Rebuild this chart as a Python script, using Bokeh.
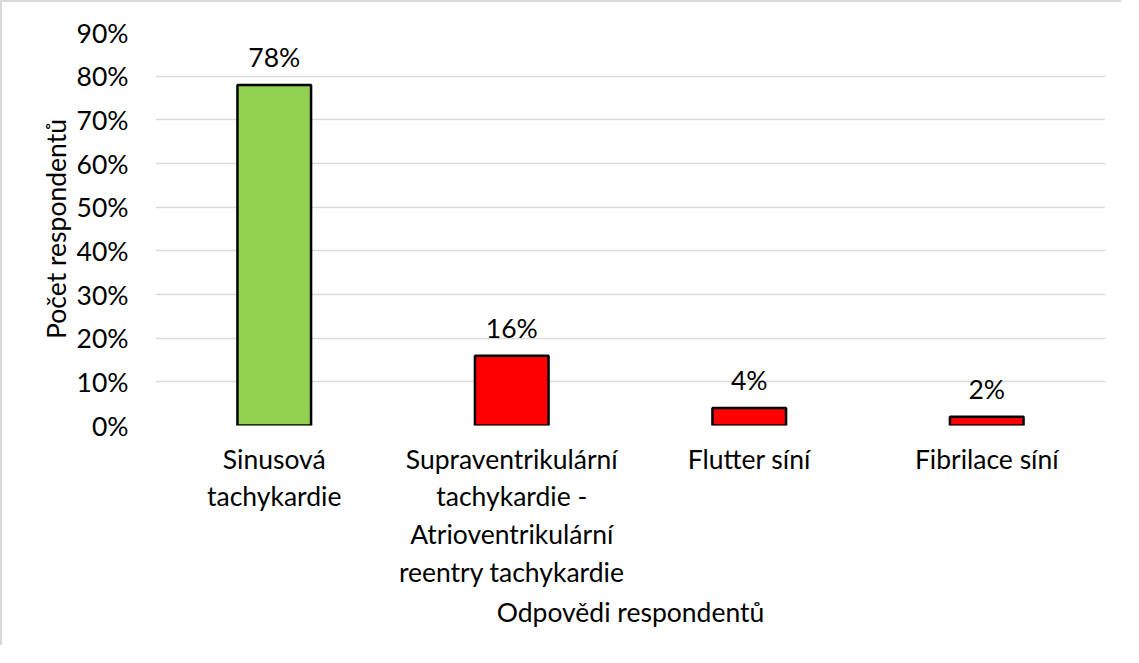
from bokeh.plotting import figure
from bokeh.models import ColumnDataSource, FactorRange, Range1d, NumeralTickFormatter, SingleIntervalTicker
from bokeh.core.properties import value
from bokeh.embed import file_html
from bokeh.resources import INLINE

categories = ["Sinusová\ntachykardie",
              "Supraventrikulární\ntachykardie -\nAtrioventrikulární\nreentry tachykardie",
              "Flutter síní",
              "Fibrilace síní"]
values = [0.78, 0.16, 0.04, 0.02]
colors = ["#92D050", "#FF0000", "#FF0000", "#FF0000"]
labels = ["78%", "16%", "4%", "2%"]

FONT = "Lato"
FS = "26.5px"

src = ColumnDataSource(dict(cat=categories, val=values, col=colors, lab=labels))

p = figure(x_range=FactorRange(*categories), y_range=Range1d(0, 0.9),
           width=1121, height=645, output_backend="svg", toolbar_location=None,
           min_border_left=153, min_border_right=18, min_border_top=30, min_border_bottom=222)
p.styles = {"border-top": "2px solid #D9D9D9", "border-left": "2px solid #D9D9D9"}
p.outline_line_color = None
p.background_fill_color = "white"
p.border_fill_color = "white"
p.x_range.range_padding = 0
p.x_range.factor_padding = 0

p.vbar(x="cat", top="val", width=0.31, source=src, fill_color="col",
       line_color="black", line_width=2.5)
p.text(x="cat", y="val", text="lab", source=src, y_offset=-28,
       text_align="center", text_baseline="middle",
       text_font=value(FONT), text_font_size=FS, text_color="black")

p.yaxis.ticker = SingleIntervalTicker(interval=0.1)
p.yaxis.formatter = NumeralTickFormatter(format="0%")
p.ygrid.grid_line_color = "#D9D9D9"
p.ygrid.grid_line_width = 1.5
p.xgrid.grid_line_color = None

for ax in (p.xaxis, p.yaxis):
    ax.axis_line_color = None
    ax.major_tick_line_color = None
    ax.minor_tick_line_color = None
    ax.major_label_text_font = FONT
    ax.major_label_text_font_size = FS
    ax.major_label_text_color = "black"
    ax.axis_label_text_font = FONT
    ax.axis_label_text_font_size = FS
    ax.axis_label_text_font_style = "normal"
    ax.axis_label_text_color = "black"

p.yaxis.axis_label = "Počet respondentů"
p.yaxis.major_label_standoff = 21
p.yaxis.axis_label_standoff = 2
p.xaxis.axis_label = "Odpovědi respondentů"
p.xaxis.major_label_standoff = 11
p.xaxis.major_label_text_line_height = 1.18
p.xaxis.axis_label_standoff = 5
p.xaxis.group_text_font_size = FS

open("out.html", "w").write(file_html(p, INLINE))
